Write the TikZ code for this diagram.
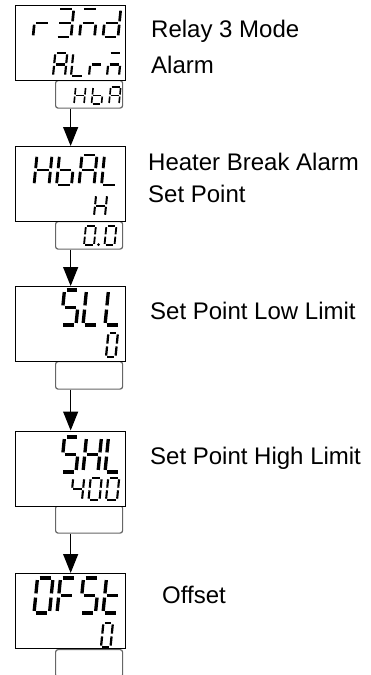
\documentclass[tikz,border=0pt]{standalone}
\usepackage{fontspec}
\setmainfont{Liberation Sans}
\usetikzlibrary{arrows.meta}
% seven-segment glyph: #1 left x, #2 bottom y, #3 width, #4 height, #5 segment list
\newcommand\sevseg[5]{%
  \begin{scope}[shift={(#1,#2)}, xslant=0.1,
      sg/.style={line width={#4*0.095pt}, shorten <={#4*0.06pt}, shorten >={#4*0.06pt}}]
    \foreach \s in {#5}{%
      \if a\s \draw[sg] (0,-#4)--(#3,-#4);\fi
      \if b\s \draw[sg] (#3,-#4)--(#3,-#4/2);\fi
      \if c\s \draw[sg] (#3,-#4/2)--(#3,0);\fi
      \if d\s \draw[sg] (0,0)--(#3,0);\fi
      \if e\s \draw[sg] (0,-#4/2)--(0,0);\fi
      \if f\s \draw[sg] (0,-#4)--(0,-#4/2);\fi
      \if g\s \draw[sg] (0,-#4/2)--(#3,-#4/2);\fi
    }
  \end{scope}}
\begin{document}
\begin{tikzpicture}[x=1pt,y=-1pt,
  disp/.style={draw=black, fill=white, line width=1.3pt, minimum width=110pt, minimum height=75pt, inner sep=0pt, anchor=north west},
  subbox/.style={draw=black!60, line width=1.2pt, rounded corners=2.5pt, minimum width=67pt, minimum height=27.5pt, inner sep=0pt, anchor=north west},
  lab/.style={anchor=base west, inner sep=0pt, font=\fontsize{24}{28}\selectfont},
  arr/.style={line width=1.2pt, -{Triangle[width=15pt,length=19pt]}},
]
\useasboundingbox (0,0) rectangle (371,675);
\clip (0,0) rectangle (371,675);

% sub displays
\node[subbox] (s1) at (55,80) {};
\node[subbox] (s2) at (55,221) {};
\node[subbox] (s3) at (55,361) {};
\node[subbox] (s4) at (55,505) {};
\node[subbox] (s5) at (55,649) {};

% main displays
\node[disp] (d1) at (15,5) {};
\node[disp] (d2) at (15,146) {};
\node[disp] (d3) at (15,286) {};
\node[disp] (d4) at (15,430.5) {};
\node[disp] (d5) at (15,573) {};

% arrows
\draw[arr] (s1.south -| d2.north) -- (d2.north);
\draw[arr] (s2.south -| d3.north) -- (d3.north);
\draw[arr] (s3.south -| d4.north) -- (d4.north);
\draw[arr] (s4.south -| d5.north) -- (d5.north);

% display 1: r3M d / ALrM / HbA
\sevseg{33}{37}{15}{28}{e,g}
\sevseg{56}{37}{15}{28}{a,b,c,d,g}
\sevseg{79.5}{37}{15}{28}{a,c,e,g}
\sevseg{103}{37}{15}{28}{b,c,d,e,g}
\sevseg{53}{76}{12}{23}{a,b,c,e,f,g}
\sevseg{71}{76}{12}{23}{d,e,f}
\sevseg{89}{76}{12}{23}{e,g}
\sevseg{107}{76}{12}{23}{a,c,e,g}
\sevseg{74}{104}{10}{17}{b,c,e,f,g}
\sevseg{91.5}{104}{10}{17}{c,d,e,f,g}
\sevseg{109}{104}{10}{17}{a,b,c,e,f,g}

% display 2: HbAL / H / 0.0
\sevseg{34}{185}{15}{30}{b,c,e,f,g}
\sevseg{56.5}{185}{15}{30}{c,d,e,f,g}
\sevseg{79}{185}{15}{30}{a,b,c,e,f,g}
\sevseg{101.5}{185}{15}{30}{d,e,f}
\sevseg{94}{216}{11}{21}{b,c,e,f,g}
\sevseg{84}{245}{10}{19}{a,b,c,d,e,f}
\fill (98.5,244.5) circle (1.5pt);
\sevseg{104.5}{245}{10}{19}{a,b,c,d,e,f}

% display 3: SLL / 0
\sevseg{61}{325}{15}{35}{a,c,d,f,g}
\sevseg{83}{325}{15}{35}{d,e,f}
\sevseg{105}{325}{15}{35}{d,e,f}
\sevseg{106}{357}{9.5}{24}{a,b,c,d,e,f}

% display 4: SHL / 400
\sevseg{61}{472}{15}{35}{a,c,d,f,g}
\sevseg{83}{472}{15}{35}{b,c,e,f,g}
\sevseg{105}{472}{15}{35}{d,e,f}
\sevseg{71}{500}{11}{22}{b,c,f,g}
\sevseg{88.5}{500}{11}{22}{a,b,c,d,e,f}
\sevseg{106}{500}{11}{22}{a,b,c,d,e,f}

% display 5: OFSt / 0
\sevseg{34}{613}{15.5}{35}{a,b,c,d,e,f}
\sevseg{57}{613}{15.5}{35}{a,e,f,g}
\sevseg{80}{613}{15.5}{35}{a,c,d,f,g}
\sevseg{103}{613}{15.5}{35}{d,e,f,g}
\sevseg{101}{647}{9.5}{24}{a,b,c,d,e,f}

% labels
\node[lab] (l1a) at (151,37) {Relay 3 Mode};
\node[lab] (l1b) at (151,73) {Alarm};
\node[lab] (l2a) at (148,170) {Heater Break Alarm};
\node[lab] (l2b) at (148,202) {Set Point};
\node[lab] (l3) at (150,319) {Set Point Low Limit};
\node[lab] (l4) at (150,464) {Set Point High Limit};
\node[lab] (l5) at (162,603) {Offset};
\end{tikzpicture}
\end{document}
